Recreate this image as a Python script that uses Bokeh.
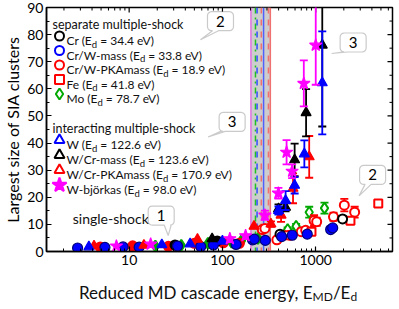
import os
import math
from bokeh.plotting import figure
from bokeh.layouts import column
from bokeh.models import (Label, PolyAnnotation, BoxAnnotation, Span, Range1d,
                          SingleIntervalTicker, BasicTickFormatter)
from bokeh.embed import file_html
from bokeh.resources import INLINE

# ---------------- data ----------------
cr_x = [31, 88, 414, 1940]
cr_y = [2.4, 3.9, 6.4, 12.0]
cr_err = [0, 0, 0.8, 1.0]

crw_mass_x = [2.8, 5.5, 8.6, 12.8, 33, 58.5, 80, 140, 210, 219, 288, 431, 560, 811, 1445, 1520]
crw_mass_y = [1.3, 1.5, 1.7, 1.6, 2.0, 1.8, 2.4, 2.6, 4.3, 4.6, 4.1, 5.5, 6.0, 6.4, 8.1, 8.7]
crw_mass_err = [0] * 16

crw_pka_x = [4.9, 10.9, 26.3, 49.9, 102, 152, 267, 285, 383, 527, 700, 780, 960, 1023, 1550, 2025, 2613]
crw_pka_y = [1.7, 2.1, 1.9, 3.0, 3.2, 3.0, 8.1, 8.5, 4.3, 6.0, 7.3, 7.8, 11.4, 11.0, 12.8, 17.1, 14.5]
crw_pka_err = [0, 0, 0, 0, 0, 0, 0.8, 0.8, 0.6, 0.7, 0.7, 0.7, 2.0, 1.5, 1.5, 2.3, 2.0]

fe_x = [507, 900, 2355, 4680]
fe_y = [6.0, 7.3, 11.3, 17.7]
fe_err = [0.6, 0.6, 1.0, 1.3]

mo_x = [19.1, 36.2, 70, 125, 160, 240, 500, 616, 851, 1241]
mo_y = [2.0, 2.3, 3.0, 3.4, 4.0, 4.8, 8.1, 9.3, 14.5, 16.0]
mo_err = [0, 0, 0, 0, 0, 0, 0.8, 0.9, 2.0, 2.0]

w_x = [3.7, 22.4, 45, 100, 399, 475, 594, 755, 1175]
w_y = [1.7, 2.5, 2.8, 3.8, 15.1, 18.8, 24.4, 36.0, 62.2]
w_err = [0, 0, 0, 0, 1.5, 3.5, 3.0, 5.0, 19.0]

wcr_mass_x = [77.5, 399, 475, 594, 788, 1175]
wcr_mass_y = [4.7, 15.7, 16.3, 33.8, 51.2, 76.1]
wcr_mass_err = [0, 1.7, 1.5, 6.0, 8.7, 30.0]

wcr_pka_x = [4.2, 14.4, 54, 218, 331, 425, 571, 851]
wcr_pka_y = [2.0, 2.3, 4.5, 9.3, 10.1, 13.4, 23.3, 34.9]
wcr_pka_err = [0, 0, 0, 0, 1.0, 2.5, 5.5, 7.7]

wb_x = [7.3, 17, 120, 177, 285, 398, 487, 558, 745, 1000]
wb_y = [2.0, 2.7, 4.7, 5.8, 13.4, 21.5, 36.6, 29.6, 62.0, 76.1]
wb_err = [0, 0, 0, 0, 1.7, 2.0, 4.5, 2.5, 8.5, 14.6]

# threshold lines (reduced energy) and shaded band
band_lo, band_hi = 202, 326
thr_x = [202, 226, 235, 261, 276, 311, 326]
thr_color = ["#e070e0", "#20c020", "#3050ff", "#f07070", "#5060ff", "#f07070", "#f07070"]
thr_dash = ["solid", "dashdot", "dashed", "dashed", "solid", "dashed", "solid"]

group1_title = "separate multiple-shock"
group1_names = ["Cr", "Cr/W-mass", "Cr/W-PKAmass", "Fe", "Mo"]
group1_ed = [34.4, 33.8, 18.9, 41.8, 78.7]
group2_title = "interacting multiple-shock"
group2_names = ["W", "W/Cr-mass", "W/Cr-PKAmass", "W-björkas"]
group2_ed = [122.6, 123.6, 170.9, 98.0]

x_label_text = "Reduced MD cascade energy, E"
y_label_text = "Largest size of SIA clusters"

# tick values for the mirrored (top / right) tick marks
y_major_ticks = [10, 20, 30, 40, 50, 60, 70, 80]
y_minor_ticks = [5, 15, 25, 35, 45, 55, 65, 75, 85]
x_major_ticks = [10, 100, 1000]
x_minor_ticks = [2, 3, 4, 5, 6, 7, 8, 9, 20, 30, 40, 50, 60, 70, 80, 90,
                 200, 300, 400, 500, 600, 700, 800, 900, 2000, 3000, 4000, 5000, 6000]

# ---------------- styling ----------------
FONT = "Lato"
XMIN, XMAX = 1.3, 6650
YMIN, YMAX = 0, 90
FL, FT = 44, 7            # frame left / top on the page
FW, FH = 346, 244
RB, BB = 5, 22
LABEL_H = 30
BLACK, BLUE, RED, GREEN, MAG = "#000000", "#0000ff", "#ff0000", "#00a800", "#ff00ff"

APPROX = {' ': 0.193, '(': 0.29, ')': 0.29, '=': 0.58, '.': 0.22, '/': 0.36, ',': 0.22,
          'C': 0.66, 'W': 0.95, 'E': 0.56, 'V': 0.68, 'P': 0.6, 'K': 0.65, 'A': 0.69,
          'F': 0.54, 'M': 0.87, 'R': 0.62, 'D': 0.74, 'r': 0.37, 'e': 0.53, 'v': 0.5,
          'm': 0.84, 'a': 0.5, 's': 0.39, '-': 0.33, 'o': 0.56, 'd': 0.56, 'b': 0.56,
          'j': 0.23, 'k': 0.52, 'i': 0.25, 'l': 0.25, 't': 0.35, 'n': 0.56, 'g': 0.5,
          'y': 0.5, 'c': 0.46, 'u': 0.56, 'p': 0.56, 'h': 0.56}
for _d in "0123456789":
    APPROX[_d] = 0.58


def _find_font():
    for root in ["/usr/share/fonts", "/usr/local/share/fonts", os.path.expanduser("~/.fonts")]:
        for dp, dn, fn in os.walk(root):
            for f in fn:
                if f.lower() == "lato-regular.ttf":
                    return os.path.join(dp, f)
    return None


_FONT_PATH = _find_font()
_cache = {}


def tw(s, size):
    try:
        from PIL import ImageFont
        key = int(round(size * 10))
        if key not in _cache:
            _cache[key] = ImageFont.truetype(_FONT_PATH, key)
        return _cache[key].getlength(s) / 10.0
    except Exception:
        return sum(APPROX.get(c, 0.52) for c in s) * size


LX0, LX1 = math.log10(XMIN), math.log10(XMAX)


def to_data(fx, fy):
    return 10 ** (LX0 + fx / FW * (LX1 - LX0)), YMIN + fy / FH * (YMAX - YMIN)


p = figure(title=None, x_axis_type="log", x_range=Range1d(XMIN, XMAX), y_range=Range1d(YMIN, YMAX),
           frame_width=FW, frame_height=FH, output_backend="svg", toolbar_location=None,
           min_border_left=FL, min_border_right=RB, min_border_top=FT, min_border_bottom=BB)
p.xgrid.visible = False
p.ygrid.visible = False
p.outline_line_color = "black"
p.outline_line_width = 1.5
p.background_fill_color = "white"

xa = p.xaxis[0]
ya = p.yaxis[0]
xa.formatter = BasicTickFormatter()
ya.ticker = SingleIntervalTicker(interval=10, num_minor_ticks=2)
for ax in (xa, ya):
    ax.major_tick_in = 5
    ax.major_tick_out = 0
    ax.minor_tick_in = 3
    ax.minor_tick_out = 0
    ax.axis_line_width = 1.5
    ax.major_tick_line_width = 1.2
    ax.minor_tick_line_width = 1.0
    ax.major_label_text_font = FONT
    ax.major_label_text_font_size = "14px"
    ax.major_label_text_color = "black"
    ax.major_label_standoff = 3
ya.axis_label = y_label_text
ya.axis_label_text_font = FONT
ya.axis_label_text_font_size = "16px"
ya.axis_label_text_font_style = "normal"
ya.axis_label_text_color = "black"
ya.axis_label_standoff = 2

# mirrored inward ticks on the top and right frame edges
kx = 10 ** (5 / FW * (LX1 - LX0))
kx_minor = 10 ** (3 / FW * (LX1 - LX0))
dy = 5 / FH * (YMAX - YMIN)
dy_minor = 3 / FH * (YMAX - YMIN)
p.segment(x0=[XMAX] * len(y_major_ticks), y0=y_major_ticks, x1=[XMAX / kx] * len(y_major_ticks),
          y1=y_major_ticks, line_color="black", line_width=1.2)
p.segment(x0=[XMAX] * len(y_minor_ticks), y0=y_minor_ticks, x1=[XMAX / kx_minor] * len(y_minor_ticks),
          y1=y_minor_ticks, line_color="black", line_width=1.0)
p.segment(x0=x_major_ticks, y0=[YMAX] * len(x_major_ticks), x1=x_major_ticks,
          y1=[YMAX - dy] * len(x_major_ticks), line_color="black", line_width=1.2)
p.segment(x0=x_minor_ticks, y0=[YMAX] * len(x_minor_ticks), x1=x_minor_ticks,
          y1=[YMAX - dy_minor] * len(x_minor_ticks), line_color="black", line_width=1.0)

# shaded band and threshold lines
p.add_layout(BoxAnnotation(left=band_lo, right=band_hi, fill_color="#bcbcbc", fill_alpha=0.75,
                           line_color=None, level="underlay"))
for xv, c, d in zip(thr_x, thr_color, thr_dash):
    p.add_layout(Span(location=xv, dimension="height", line_color=c, line_dash=d,
                      line_width=1.5, level="underlay"))


def plot_series(xs, ys, errs, marker, color, open_style, size, edge=None):
    ex = [x for x, e in zip(xs, errs) if e > 0]
    lo = [max(y - e, YMIN) for y, e in zip(ys, errs) if e > 0]
    hi = [min(y + e, YMAX + 5) for y, e in zip(ys, errs) if e > 0]
    if ex:
        p.segment(x0=ex, y0=lo, x1=ex, y1=hi, line_color=color, line_width=1.8)
        p.scatter(x=ex + ex, y=lo + hi, marker="dash", size=8, line_color=color, line_width=1.8)
    fills = [("white" if (open_style and e > 0) else color) for e in errs]
    p.scatter(x=xs, y=ys, marker=marker, size=size, fill_color=fills,
              line_color=edge or color, line_width=2 if open_style else 1.2)


plot_series(mo_x, mo_y, mo_err, "diamond", GREEN, True, 11)
plot_series(crw_pka_x, crw_pka_y, crw_pka_err, "circle", RED, True, 9)
plot_series(fe_x, fe_y, fe_err, "square", RED, True, 8)
plot_series(cr_x, cr_y, cr_err, "circle", BLACK, True, 9)
plot_series(crw_mass_x, crw_mass_y, crw_mass_err, "circle", BLUE, False, 10, edge="#00007a")
plot_series(wcr_pka_x, wcr_pka_y, wcr_pka_err, "triangle", RED, False, 10)
plot_series(wcr_mass_x, wcr_mass_y, wcr_mass_err, "triangle", BLACK, False, 10)
plot_series(w_x, w_y, w_err, "triangle", BLUE, False, 10)
plot_series(wb_x, wb_y, wb_err, "star", MAG, False, 13)


# ---------------- text helpers ----------------
def label(fig, x, y, text, size, align="left", baseline="alphabetic"):
    fig.add_layout(Label(x=x, y=y, x_units="screen", y_units="screen", text=text,
                         text_font=FONT, text_font_size=f"{size}px", text_align=align,
                         text_baseline=baseline, text_color="#111111"))


def rich(fig, pieces, x, y, size, sub_size, drop):
    cx = x
    for txt, sub in pieces:
        fs = sub_size if sub else size
        stripped = txt.lstrip(" ")
        cx += tw(" " * (len(txt) - len(stripped)), fs)
        label(fig, cx, y - drop if sub else y, stripped, fs)
        cx += tw(stripped, fs)


def page_to_frame(px, py):
    """absolute page position (as in the reference) -> frame screen coords (y up)"""
    return px - FL, FH - (py - FT)


def ref_to_frame(px, py):
    """reference data-area position -> same data position in this frame"""
    return (px - 38) * FW / 356.0, (265 - py) * FH / 258.0


LS_T = 12.5
LS = 12
legend_style = {
    "Cr": ("circle", BLACK, "white", 9), "Cr/W-mass": ("circle", BLUE, "white", 9),
    "Cr/W-PKAmass": ("circle", RED, "white", 9), "Fe": ("square", RED, "white", 9),
    "Mo": ("diamond", GREEN, "white", 11), "W": ("triangle", BLUE, "white", 10),
    "W/Cr-mass": ("triangle", BLACK, "white", 10), "W/Cr-PKAmass": ("triangle", RED, "white", 10),
    "W-björkas": ("star", MAG, MAG, 15),
}


def legend_group(title, title_base, names, eds, base0, step):
    tx, ty = page_to_frame(50, title_base)
    label(p, tx, ty, title, LS_T)
    for i, (nm, ed) in enumerate(zip(names, eds)):
        base = base0 + step * i
        mk, c, fc, sz = legend_style[nm]
        mfx, mfy = page_to_frame(57, base - 4.5)
        mx, my = to_data(mfx, mfy)
        p.scatter(x=[mx], y=[my], marker=mk, size=sz, line_color=c, fill_color=fc, line_width=2)
        lx, ly = page_to_frame(64, base)
        rich(p, [(nm + " (E", False), ("d", True), (f" = {ed:.1f} eV)", False)], lx, ly, LS, 9.5, 3.5)


legend_group(group1_title, 24, group1_names, group1_ed, 40, 14.5)
legend_group(group2_title, 128, group2_names, group2_ed, 144, 15)

fx, fy = ref_to_frame(65, 230)
label(p, fx, fy, "single-shock", 14)


# callout bubbles
def bubble(cx, cy, w, h, b0, b1, tx, ty, r=4.0):
    l, rg, bt, tp = cx - w / 2, cx + w / 2, cy - h / 2, cy + h / 2
    pts = []

    def arc(ax, ay, a0, a1):
        for k in range(5):
            a = math.radians(a0 + (a1 - a0) * k / 4)
            pts.append((ax + r * math.cos(a), ay + r * math.sin(a)))

    arc(rg - r, tp - r, 90, 0)
    arc(rg - r, bt + r, 0, -90)
    pts.append((cx + b1, bt))
    pts.append((cx + tx, cy - ty))
    pts.append((cx + b0, bt))
    arc(l + r, bt + r, -90, -180)
    arc(l + r, tp - r, 180, 90)
    return [q[0] for q in pts], [q[1] for q in pts]


callouts = [
    ("2", 217, 21.5, -8, -2, -20, 18.5),
    ("3", 353.5, 44, -10.5, -5.5, -21.5, 11),
    ("3", 229, 128, -12, -7, -24, 15),
    ("1", 156, 227, 3, 10, 7, 20),
    ("2", 373.5, 184, -7.5, -1.5, -13.5, 21),
]
for txt, rx, ry, b0, b1, tx, ty in callouts:
    cx, cy = ref_to_frame(rx, ry)
    xs, ys = bubble(cx, cy, 26, 19, b0, b1, tx, ty)
    p.add_layout(PolyAnnotation(xs=xs, ys=ys, xs_units="screen", ys_units="screen",
                                fill_color="white", fill_alpha=1.0, line_color="#505050",
                                line_width=1.2, level="overlay"))
    p.add_layout(Label(x=cx, y=cy, x_units="screen", y_units="screen", text=txt,
                       text_font=FONT, text_font_size="15px", text_align="center",
                       text_baseline="middle", text_color="black", level="overlay"))

# x-axis title (with subscripts) in a slim text strip below the plot,
# with its frame aligned exactly under the main frame
q = figure(title=None, frame_width=FW, frame_height=LABEL_H, x_range=Range1d(0, FW),
           y_range=Range1d(0, LABEL_H), output_backend="svg", toolbar_location=None,
           x_axis_location=None, y_axis_location=None,
           min_border_left=FL, min_border_right=RB, min_border_top=0, min_border_bottom=0)
q.outline_line_color = None
q.xgrid.visible = False
q.ygrid.visible = False
XL, XLS = 17, 12
pieces = [(x_label_text, False), ("MD", True), ("/E", False), ("d", True)]
sizes = [XL, XLS, XL, XLS]
total = sum(tw(t, s) for (t, _), s in zip(pieces, sizes))
rich(q, pieces, 215.5 - FL - total / 2, 11, XL, XLS, 4)

layout = column(p, q, spacing=0)
open("out.html", "w").write(file_html(layout, INLINE))
